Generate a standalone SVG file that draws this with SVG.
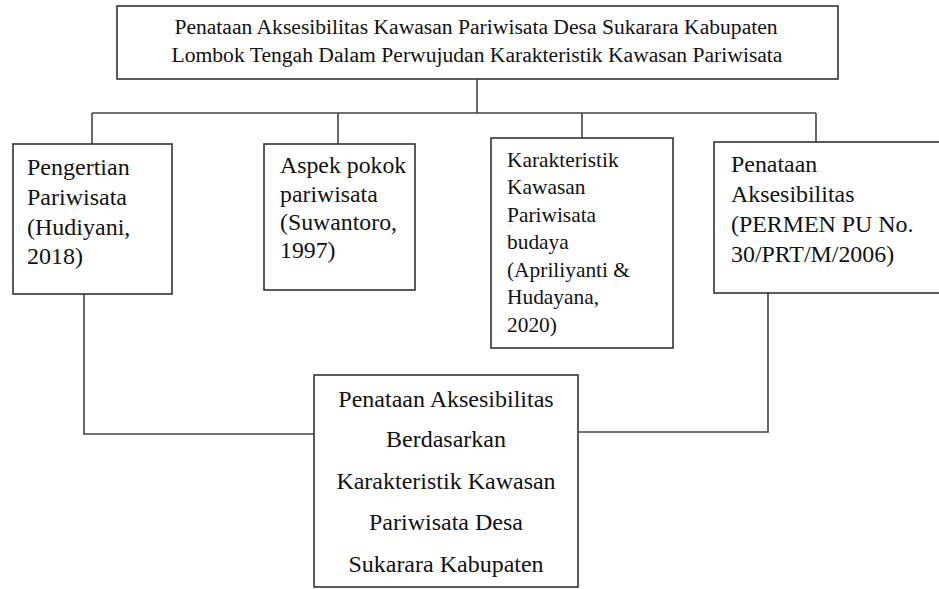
<svg xmlns="http://www.w3.org/2000/svg" width="939" height="589" viewBox="0 0 939 589">
<style>
.box{fill:#fff;stroke:#333;stroke-width:1.6}
.con{fill:none;stroke:#444;stroke-width:1.6}
text{font-family:"Liberation Serif","Times New Roman",serif;fill:#111}
.c{text-anchor:middle}
</style>
<rect width="939" height="589" fill="#fff"/>
<g id="connectors">
<path class="con" d="M477,79 V113 M92,113 H816 M92,113 V145 M338,113 V144 M582,113 V138 M816,113 V142"/>
<path class="con" d="M84,294 V434 H314"/>
<path class="con" d="M768,293 V432 H578"/>
</g>
<g id="top">
<rect class="box" x="117" y="6" width="721" height="73"/>
<text class="c" x="476" y="34" font-size="21.6">Penataan Aksesibilitas Kawasan Pariwisata Desa Sukarara Kabupaten</text>
<text class="c" x="477" y="61.5" font-size="21.6">Lombok Tengah Dalam Perwujudan Karakteristik Kawasan Pariwisata</text>
</g>
<g id="n1">
<rect class="box" x="13" y="144" width="159" height="150"/>
<text font-size="24"><tspan x="27" y="175">Pengertian</tspan><tspan x="27" y="205">Pariwisata</tspan><tspan x="27" y="235">(Hudiyani,</tspan><tspan x="27" y="264">2018)</tspan></text>
</g>
<g id="n2">
<rect class="box" x="264" y="144" width="151" height="146"/>
<text font-size="23.8"><tspan x="280" y="173">Aspek pokok</tspan><tspan x="280" y="202">pariwisata</tspan><tspan x="280" y="230">(Suwantoro,</tspan><tspan x="280" y="258">1997)</tspan></text>
</g>
<g id="n3">
<rect class="box" x="491" y="138" width="182" height="210"/>
<text font-size="21.4"><tspan x="507" y="167">Karakteristik</tspan><tspan x="507" y="194">Kawasan</tspan><tspan x="507" y="222">Pariwisata</tspan><tspan x="507" y="249">budaya</tspan><tspan x="507" y="277">(Apriliyanti &amp;</tspan><tspan x="507" y="304">Hudayana,</tspan><tspan x="507" y="332">2020)</tspan></text>
</g>
<g id="n4">
<rect class="box" x="714" y="142" width="230" height="151"/>
<text font-size="23.9"><tspan x="731" y="172">Penataan</tspan><tspan x="731" y="202">Aksesibilitas</tspan><tspan x="731" y="232">(PERMEN PU No.</tspan><tspan x="731" y="262">30/PRT/M/2006)</tspan></text>
</g>
<g id="n5">
<rect class="box" x="314" y="375" width="264" height="212"/>
<text class="c" font-size="24"><tspan x="446" y="407">Penataan Aksesibilitas</tspan><tspan x="446" y="447">Berdasarkan</tspan><tspan x="446" y="489">Karakteristik Kawasan</tspan><tspan x="446" y="530">Pariwisata Desa</tspan><tspan x="446" y="572">Sukarara Kabupaten</tspan></text>
</g>
</svg>
